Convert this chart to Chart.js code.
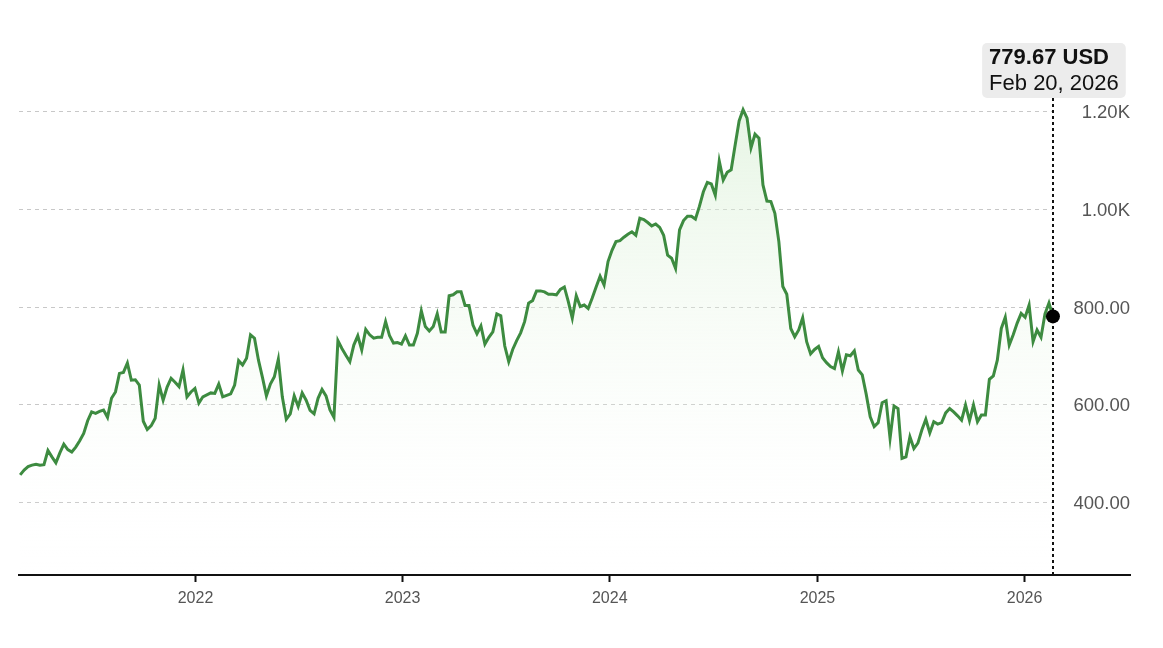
<!DOCTYPE html>
<html>
<head>
<meta charset="utf-8">
<script src="https://cdn.jsdelivr.net/npm/chart.js@4.4.1/dist/chart.umd.min.js"></script>
<style>
  html, body { margin: 0; padding: 0; background: #fff; }
  #wrap { width: 1163px; height: 648px; position: relative; }
</style>
</head>
<body>
<div id="wrap"><canvas id="priceChart"></canvas></div>
<script>
const DAY = 86400000;
// weekly closes, first one on Feb 26, 2021
const startDate = Date.UTC(2021, 1, 26);
const prices = [
  455, 465, 472, 475, 477, 475, 476, 505, 492, 480,
  500, 518, 507, 502, 512, 525, 540, 566, 584, 581,
  585, 588, 573, 612, 625, 663, 665, 684, 649, 650,
  639, 565, 548, 556, 571, 639, 608, 635, 653, 645,
  636, 670, 615, 625, 632, 602, 615, 619, 623, 622,
  641, 615, 618, 621, 639, 689, 680, 694, 742, 735,
  690, 655, 617, 641, 656, 692, 615, 569, 580, 617,
  595, 623, 608, 587, 580, 612, 630, 617, 588, 573,
  730, 714, 700, 687, 721, 740, 711, 753, 742, 735,
  737, 737, 769, 740, 725, 726, 723, 740, 721, 721,
  745, 791, 759, 750, 759, 785, 748, 748, 822, 824,
  830, 830, 802, 802, 762, 744, 760, 723, 737, 748,
  785, 781, 719, 687, 712, 730, 746, 769, 807, 812,
  832, 832, 830, 825, 825, 824, 835, 840, 810, 776,
  822, 800, 803, 796, 817, 840, 862, 844, 892, 915,
  933, 935, 942, 948, 953, 946, 981, 978, 972, 965,
  969, 962, 946, 905, 899, 878, 957, 976, 985, 985,
  979, 1005, 1035, 1054, 1051, 1028, 1098, 1059, 1075, 1080,
  1131, 1180, 1203, 1186, 1125, 1153, 1145, 1049, 1016, 1015,
  991, 933, 841, 825, 755, 738, 752, 777, 728, 703,
  712, 718, 695, 685, 677, 673, 707, 668, 701, 699,
  709, 670, 660, 620, 574, 554, 562, 603, 607, 530,
  596, 591, 489, 492, 533, 509, 520, 547, 569, 541,
  564, 559, 562, 582, 591, 584, 576, 567, 598, 566,
  598, 564, 578, 578, 651, 658, 690, 755, 778, 721,
  742, 766, 786, 778, 803, 728, 752, 737, 785, 807,
  779.67
];
const yearTicks = [2022, 2023, 2024, 2025, 2026];
const priceTicks = [400, 600, 800, 1000, 1200];
const priceTickLabels = ['400.00', '600.00', '800.00', '1.00K', '1.20K'];
const lastLabel = ['779.67 USD', 'Feb 20, 2026'];

const points = prices.map((p, i) => ({ x: startDate + i * 7 * DAY, y: p }));
const lastPoint = points[points.length - 1];
const font = '"Liberation Sans", Arial, sans-serif';

// dashed price gridlines + labels on the right
const priceGrid = {
  id: 'priceGrid',
  beforeDatasetsDraw(chart) {
    const { ctx, chartArea, scales } = chart;
    const gridEnd = scales.x.getPixelForValue(lastPoint.x);
    ctx.save();
    ctx.strokeStyle = '#c8c8c8';
    ctx.lineWidth = 1;
    ctx.setLineDash([4, 4]);
    ctx.font = '18.5px ' + font;
    ctx.fillStyle = '#555';
    ctx.textAlign = 'right';
    ctx.textBaseline = 'middle';
    priceTicks.forEach((v, i) => {
      const y = Math.round(scales.y.getPixelForValue(v)) + 0.5;
      ctx.beginPath();
      ctx.moveTo(chartArea.left, y);
      ctx.lineTo(gridEnd, y);
      ctx.stroke();
      ctx.fillText(priceTickLabels[i], chartArea.right, y + 1);
    });
    ctx.restore();
  },
  afterDatasetsDraw(chart) {
    const { ctx, chartArea, scales } = chart;
    const x = scales.x.getPixelForValue(lastPoint.x);
    const y = scales.y.getPixelForValue(lastPoint.y);
    ctx.save();
    // label box
    ctx.font = 'bold 22px ' + font;
    const w1 = ctx.measureText(lastLabel[0]).width;
    ctx.font = '22px ' + font;
    const w2 = ctx.measureText(lastLabel[1]).width;
    const boxW = Math.max(w1, w2) + 14;
    const boxL = x - boxW / 2 + 1;
    const boxT = 43, boxH = 55;
    ctx.fillStyle = '#ececec';
    ctx.beginPath();
    ctx.roundRect(boxL, boxT, boxW, boxH, 5);
    ctx.fill();
    ctx.fillStyle = '#111';
    ctx.textBaseline = 'middle';
    ctx.textAlign = 'left';
    ctx.font = 'bold 22px ' + font;
    ctx.fillText(lastLabel[0], boxL + 7, boxT + 15);
    ctx.font = '22px ' + font;
    ctx.fillText(lastLabel[1], boxL + 7, boxT + 41);
    // dotted crosshair
    ctx.strokeStyle = '#111';
    ctx.lineWidth = 2;
    ctx.setLineDash([3, 3]);
    ctx.beginPath();
    ctx.moveTo(Math.round(x), boxT + boxH);
    ctx.lineTo(Math.round(x), chartArea.bottom);
    ctx.stroke();
    // last point marker
    ctx.setLineDash([]);
    ctx.fillStyle = '#000';
    ctx.beginPath();
    ctx.arc(x, y, 7, 0, Math.PI * 2);
    ctx.fill();
    ctx.restore();
  }
};

new Chart(document.getElementById('priceChart'), {
  type: 'line',
  data: {
    datasets: [{
      data: points,
      borderColor: '#3d8b40',
      borderWidth: 3,
      pointRadius: 0,
      tension: 0,
      fill: 'start',
      backgroundColor: (context) => {
        const area = context.chart.chartArea;
        if (!area) return 'rgba(230,244,226,0.6)';
        const g = context.chart.ctx.createLinearGradient(0, area.top, 0, area.bottom);
        g.addColorStop(0, 'rgba(205,235,200,0.65)');
        g.addColorStop(1, 'rgba(255,255,255,0)');
        return g;
      },
    }],
  },
  options: {
    animation: false,
    responsive: true,
    maintainAspectRatio: false,
    layout: { padding: { left: 19, right: 33, top: 38, bottom: 0 } },
    plugins: {
      legend: { display: false },
      tooltip: { enabled: false },
    },
    scales: {
      x: {
        type: 'linear',
        min: startDate - 2 * DAY,
        max: startDate + 279.4 * 7 * DAY,
        afterBuildTicks: (scale) => {
          scale.ticks = yearTicks.map((yr) => ({ value: Date.UTC(yr, 0, 1) }));
        },
        afterFit: (scale) => { scale.height = 73; },
        ticks: {
          callback: (value) => String(new Date(value).getUTCFullYear()),
          font: { family: font, size: 16 },
          color: '#555',
          padding: 7,
          maxRotation: 0,
        },
        grid: { drawOnChartArea: false, drawTicks: true, tickLength: 7, tickColor: '#111', tickWidth: 2 },
        border: { display: true, color: '#111', width: 2 },
      },
      y: {
        display: false,
        min: 250,
        max: 1350,
      },
    },
  },
  plugins: [priceGrid],
});
</script>
</body>
</html>
